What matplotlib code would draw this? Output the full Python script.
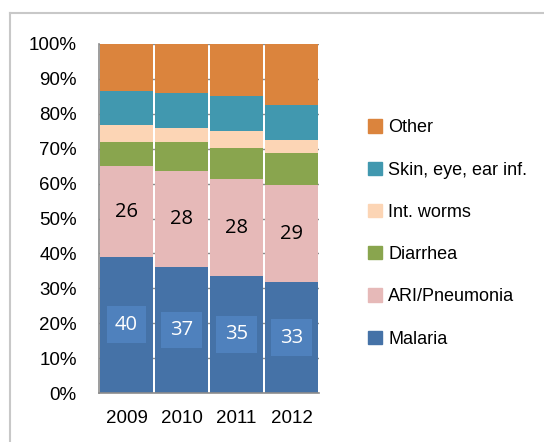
import matplotlib
matplotlib.use("Agg")
import matplotlib.pyplot as plt
import matplotlib.patches as mpatches
from matplotlib.lines import Line2D
import numpy as np

plt.rcParams['font.family'] = ['Liberation Sans', 'DejaVu Sans']

years = ["2009", "2010", "2011", "2012"]
categories = ["Malaria", "ARI/Pneumonia", "Diarrhea", "Int. worms", "Skin, eye, ear inf.", "Other"]
malaria = [39.1, 36.1, 33.6, 31.7]
ari = [25.8, 27.4, 27.6, 27.9]
diarrhea = [7.0, 8.3, 9.1, 9.2]
worms = [4.8, 4.0, 4.7, 3.7]
skin = [9.9, 10.1, 10.0, 10.0]
other = [13.4, 14.1, 15.0, 17.5]
malaria_labels = [40, 37, 35, 33]
ari_labels = [26, 28, 28, 29]

colors = ["#4572a7", "#e6b9b8", "#89a54e", "#fcd5b5", "#4198af", "#db843d"]
series = [malaria, ari, diarrhea, worms, skin, other]

fig = plt.figure(figsize=(5.44, 4.42), dpi=100)
ax = fig.add_axes([99 / 544, 1 - 393 / 442, 220 / 544, 349 / 442])

x = np.arange(len(years))
bottom = np.zeros(len(years))
for vals, c in zip(series, colors):
    ax.bar(x, vals, bottom=bottom, width=0.95, color=c, zorder=2)
    bottom += np.array(vals)

# data labels
numfont = ["Open Sans", "DejaVu Sans"]
for i in range(len(years)):
    ax.text(x[i], malaria[i] / 2, str(malaria_labels[i]), ha="center", va="center",
            color="white", fontsize=14.5, family=numfont, zorder=3,
            bbox=dict(boxstyle="square,pad=0.42", fc="#4f81bd", ec="none"))
    ax.text(x[i], malaria[i] + ari[i] / 2, str(ari_labels[i]), ha="center", va="center",
            color="black", fontsize=14.5, family=numfont, zorder=3)

ax.set_xlim(-0.5, 3.5)
ax.set_ylim(0, 100)
ax.set_yticks(np.arange(0, 101, 10))
ax.set_yticklabels([f"{v}%" for v in range(0, 101, 10)], fontsize=13.5)
ax.set_xticks(x)
ax.set_xticklabels(years, fontsize=13.5)
ax.yaxis.grid(True, color="#8c8c8c", linewidth=1, zorder=0)
ax.tick_params(axis="x", length=0, pad=12)
ax.tick_params(axis="y", length=0, pad=16)
for s in ["top", "right"]:
    ax.spines[s].set_visible(False)
for s in ["left", "bottom"]:
    ax.spines[s].set_color("#8c8c8c")
    ax.spines[s].set_linewidth(1.2)

handles = [mpatches.Patch(color=c, label=l) for c, l in zip(colors, categories)]
leg = fig.legend(handles=handles[::-1], loc="upper left", bbox_to_anchor=(352 / 544, 1 - 103 / 442),
                 frameon=False, fontsize=13, labelspacing=1.4, handlelength=0.75, handleheight=0.75,
                 handletextpad=0.35)

# chart border (top and left)
fig.add_artist(Line2D([10 / 544, 10 / 544], [0, 1 - 13 / 442], color="#c8c8c8", lw=1.5,
                      transform=fig.transFigure))
fig.add_artist(Line2D([10 / 544, 1], [1 - 13 / 442, 1 - 13 / 442], color="#c8c8c8", lw=1.5,
                      transform=fig.transFigure))

fig.savefig("out.png", dpi=100)
